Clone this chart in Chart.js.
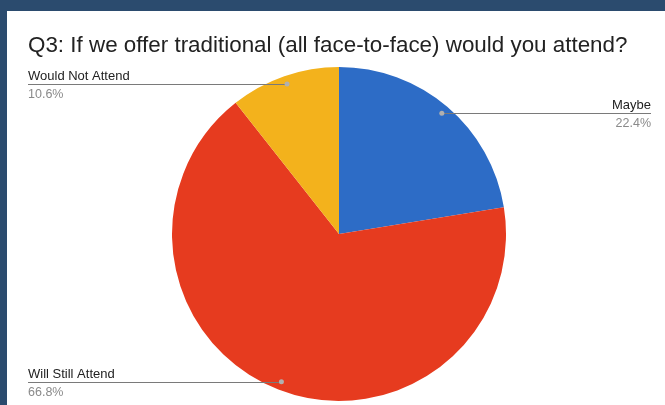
<!DOCTYPE html>
<html>
<head>
<meta charset="utf-8">
<script src="https://cdn.jsdelivr.net/npm/chart.js@4"></script>
<style>
  html, body { margin: 0; padding: 0; }
  body { width: 665px; height: 405px; background: #2b4b6e; position: relative; overflow: hidden; }
  #panel { position: absolute; left: 7px; top: 11px; width: 658px; height: 394px; background: #ffffff; }
  #c { display: block; }
</style>
</head>
<body>
<div id="panel"><canvas id="c" width="658" height="394"></canvas></div>
<script>
const title = 'Q3: If we offer traditional (all face-to-face) would you attend?';
const categories = ['Maybe', 'Will Still Attend', 'Would Not Attend'];
const percents = [22.4, 66.8, 10.6];
const colors = ['#2d6cc6', '#e63b1f', '#f3b21c'];

const labelPlugin = {
  id: 'leaderLabels',
  afterDraw(chart) {
    const ctx = chart.ctx;
    const meta = chart.getDatasetMeta(0);
    const W = chart.width;
    ctx.save();
    // title
    ctx.font = '22.4px "Liberation Sans", Arial, sans-serif';
    ctx.fillStyle = '#222222';
    ctx.textAlign = 'left';
    ctx.textBaseline = 'alphabetic';
    ctx.fillText(title, 21, 41);

    meta.data.forEach((arc, i) => {
      const p = arc.getProps(['x', 'y', 'startAngle', 'endAngle', 'outerRadius'], true);
      const mid = (p.startAngle + p.endAngle) / 2;
      const r = p.outerRadius * 0.95;
      const px = p.x + Math.cos(mid) * r;
      const py = p.y + Math.sin(mid) * r;
      const right = Math.cos(mid) > 0;
      const ex = right ? W - 14 : 21;
      ctx.strokeStyle = '#7a7a7a';
      ctx.lineWidth = 1;
      ctx.beginPath();
      ctx.moveTo(px, Math.round(py) + 0.5);
      ctx.lineTo(ex, Math.round(py) + 0.5);
      ctx.stroke();
      ctx.fillStyle = '#b0b0b0';
      ctx.beginPath();
      ctx.arc(px, py, 2.5, 0, Math.PI * 2);
      ctx.fill();
      ctx.textAlign = right ? 'right' : 'left';
      ctx.font = '13px "Liberation Sans", Arial, sans-serif';
      ctx.fillStyle = '#222222';
      ctx.textBaseline = 'alphabetic';
      ctx.fillText(categories[i], ex, Math.round(py) - 4);
      ctx.font = '12.5px "Liberation Sans", Arial, sans-serif';
      ctx.fillStyle = '#8a8a8a';
      ctx.textBaseline = 'top';
      ctx.fillText(percents[i].toFixed(1) + '%', ex, Math.round(py) + 4);
    });
    ctx.restore();
  }
};

new Chart(document.getElementById('c'), {
  type: 'pie',
  data: {
    labels: categories,
    datasets: [{
      data: percents,
      backgroundColor: colors,
      borderWidth: 0
    }]
  },
  options: {
    responsive: false,
    animation: false,
    events: [],
    layout: { padding: { left: 165, right: 159, top: 56, bottom: 4 } },
    plugins: {
      legend: { display: false },
      tooltip: { enabled: false },
      title: { display: false }
    }
  },
  plugins: [labelPlugin]
});
</script>
</body>
</html>
